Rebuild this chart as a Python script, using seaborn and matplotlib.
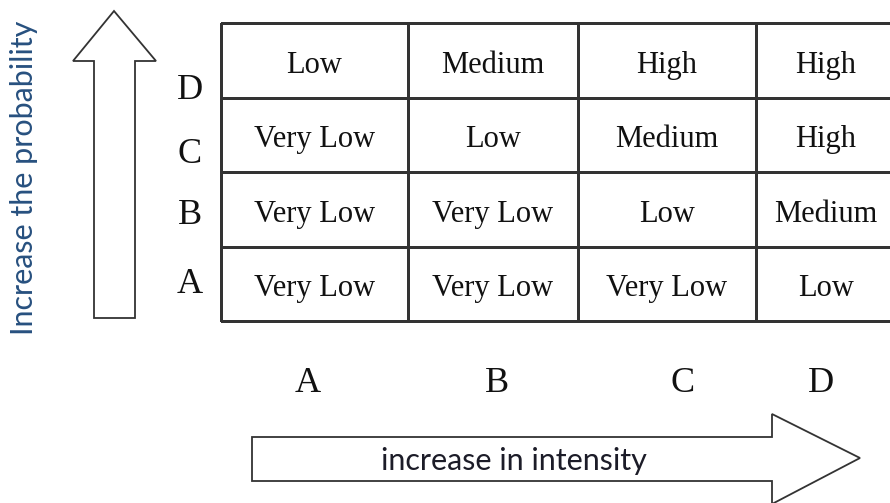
import numpy as np
import pandas as pd
import seaborn as sns
import matplotlib.pyplot as plt
from matplotlib.colors import ListedColormap
from matplotlib.patches import Polygon

# risk matrix, rows from top (D) to bottom (A), columns A..D
probability = ['D', 'C', 'B', 'A']
intensity = ['A', 'B', 'C', 'D']
risk_D = ['Low', 'Medium', 'High', 'High']
risk_C = ['Very Low', 'Low', 'Medium', 'High']
risk_B = ['Very Low', 'Very Low', 'Low', 'Medium']
risk_A = ['Very Low', 'Very Low', 'Very Low', 'Low']
levels = ['Very Low', 'Low', 'Medium', 'High']

W, H = 890, 503
sns.set_theme(style='white')
plt.rcParams['font.family'] = ['Liberation Serif', 'DejaVu Serif']

labels = pd.DataFrame([risk_D, risk_C, risk_B, risk_A], index=probability, columns=intensity)
codes = labels.apply(lambda c: c.map(levels.index))

fig = plt.figure(figsize=(W / 100, H / 100), dpi=100)
fig.patch.set_facecolor('white')

# background axes in pixel coordinates for arrows and free labels
bg = fig.add_axes([0, 0, 1, 1])
bg.set_xlim(0, W)
bg.set_ylim(H, 0)
bg.axis('off')

line_col = '#333333'
up_arrow = [(94, 318), (94, 61), (73, 61), (114, 11), (156, 61), (135, 61), (135, 318)]
right_arrow = [(252, 437), (772, 437), (772, 414), (860, 458), (772, 504), (772, 481), (252, 481)]
for pts in (up_arrow, right_arrow):
    bg.add_patch(Polygon(pts, closed=True, facecolor='white', edgecolor=line_col, lw=1.3))

bg.text(24, 178, 'Increase the probability', rotation=90, ha='center', va='center',
        fontsize=22, color='#27507f', family=['Lato', 'DejaVu Sans'])
bg.text(514, 470, 'increase in intensity', ha='center', va='baseline',
        fontsize=22, color='#1c1c28', family=['Lato', 'DejaVu Sans'])

row_pos = {'D': 99, 'C': 163, 'B': 224, 'A': 293}
for p in probability:
    bg.text(190, row_pos[p], p, ha='center', va='baseline', fontsize=26, color='#111111')
col_pos = {'A': 308, 'B': 497, 'C': 683, 'D': 821}
for c in intensity:
    bg.text(col_pos[c], 392, c, ha='center', va='baseline', fontsize=26, color='#111111')

# table: one heatmap column per axes so the widths can differ
col_edges = [221, 408, 578, 756, 896]
top, bottom = 23, 321
white = ListedColormap(['white'])
for j, c in enumerate(intensity):
    x0, x1 = col_edges[j], col_edges[j + 1]
    ax = fig.add_axes([x0 / W, 1 - bottom / H, (x1 - x0) / W, (bottom - top) / H])
    sns.heatmap(codes[[c]], ax=ax, cmap=white, cbar=False, annot=labels[[c]].values, fmt='',
                linewidths=1.0, linecolor=line_col, vmin=0, vmax=3,
                annot_kws={'fontsize': 22, 'color': '#111111', 'family': ['Liberation Serif']})
    ax.collections[0].set_clip_on(False)
    for t in ax.texts:
        t.set_y(t.get_position()[1] + 0.07)
    ax.set_xticks([])
    ax.set_yticks([])
    ax.set_xlabel('')
    ax.set_ylabel('')

fig.savefig('out.png', dpi=100, facecolor='white')
